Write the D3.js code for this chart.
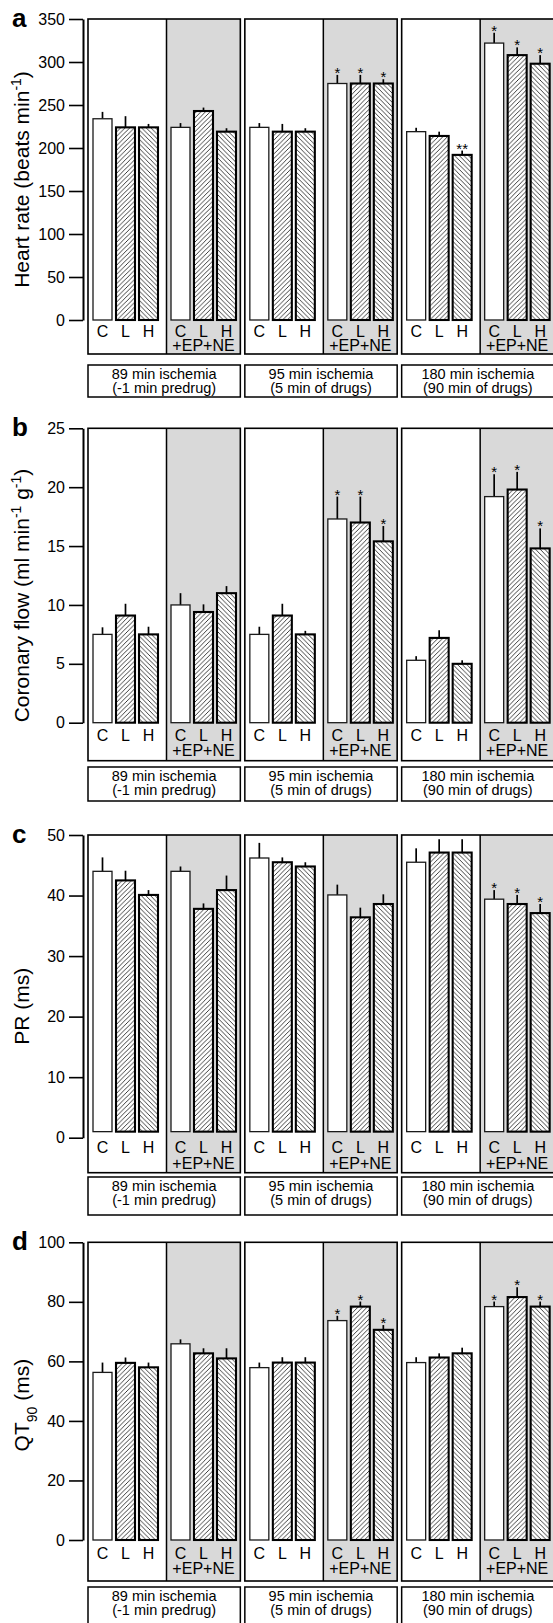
<!DOCTYPE html>
<html><head><meta charset="utf-8">
<script src="https://cdn.jsdelivr.net/npm/d3@7"></script>
<style>
body{margin:0;background:#fff}
svg text{font-family:"Liberation Sans",Arial,Helvetica,sans-serif;fill:#000}
</style>
</head><body>
<svg id="chart" width="553" height="1623"></svg>
<script>
// ---------------- DATA ----------------
const treatments = ["C", "L", "H"];
const conditions = ["control", "drug"];
const drugLabel = "+EP+NE";
const groupLine1 = ["89 min ischemia", "95 min ischemia", "180 min ischemia"];
const groupLine2 = ["(-1 min predrug)", "(5 min of drugs)", "(90 min of drugs)"];

// order: group -> condition(control, +EP+NE) -> treatment(C, L, H)
const hrMean = [234, 224, 224, 224, 243, 219,  224, 219, 219, 275, 275, 275,  219, 214, 192, 322, 308, 298];
const hrErr  = [8, 13, 4, 5, 4, 4,  5, 9, 4, 10, 10, 5,  4.5, 5, 5, 12, 9, 10];
const hrSig  = ["", "", "", "", "", "",  "", "", "", "*", "*", "*",  "", "", "**", "*", "*", "*"];
const hrTicks = [0, 50, 100, 150, 200, 250, 300, 350];

const cfMean = [7.5, 9.1, 7.5, 10.0, 9.4, 11.0,  7.5, 9.1, 7.5, 17.3, 17.0, 15.4,  5.3, 7.2, 5.0, 19.2, 19.8, 14.8];
const cfErr  = [0.6, 1.0, 0.65, 1.0, 0.65, 0.6,  0.65, 1.0, 0.3, 1.9, 2.2, 1.3,  0.35, 0.65, 0.3, 1.9, 1.5, 1.7];
const cfSig  = ["", "", "", "", "", "",  "", "", "", "*", "*", "*",  "", "", "", "*", "*", "*"];
const cfTicks = [0, 5, 10, 15, 20, 25];

const prMean = [44, 42.5, 40.1, 44, 37.8, 40.9,  46.2, 45.5, 44.8, 40.1, 36.4, 38.6,  45.5, 47.1, 47.1, 39.4, 38.6, 37.1];
const prErr  = [2.3, 1.6, 0.8, 0.8, 0.9, 2.4,  2.5, 0.8, 0.7, 1.7, 1.6, 1.6,  2.3, 2.2, 2.2, 1.5, 1.5, 1.5];
const prSig  = ["", "", "", "", "", "",  "", "", "", "", "", "",  "", "", "", "*", "*", "*"];
const prTicks = [0, 10, 20, 30, 40, 50];
const prBarBase = 1;

const qtMean = [56.3, 59.5, 58.0, 65.9, 62.7, 61.0,  57.9, 59.6, 59.6, 73.7, 78.4, 70.6,  59.6, 61.3, 62.7, 78.4, 81.6, 78.4];
const qtErr  = [3.3, 1.8, 1.6, 1.5, 1.7, 3.4,  1.7, 1.8, 1.8, 1.6, 1.7, 1.6,  1.8, 1.4, 1.9, 1.7, 3.3, 1.7];
const qtSig  = ["", "", "", "", "", "",  "", "", "", "*", "*", "*",  "", "", "", "*", "*", "*"];
const qtTicks = [0, 20, 40, 60, 80, 100];

// ---------------- LAYOUT ----------------
const panels = [
  {letter: "a", mean: hrMean, err: hrErr, sig: hrSig, ticks: hrTicks, base: 0,
   title: [["Heart rate (beats min", 0], ["-1", 1], [")", 0]], titleShift: 10,
   top: 19, zero: 320, clh: 17, epne: 31, boxB: 34, labTop: 365, labBot: 397},
  {letter: "b", mean: cfMean, err: cfErr, sig: cfSig, ticks: cfTicks, base: 0,
   title: [["Coronary flow (ml min", 0], ["-1", 1], [" g", 0], ["-1", 1], [")", 0]], titleShift: 20,
   top: 428.3, zero: 722.7, clh: 18, epne: 33, boxB: 38, labTop: 767, labBot: 801},
  {letter: "c", mean: prMean, err: prErr, sig: prSig, ticks: prTicks, base: prBarBase,
   title: [["PR (ms)", 0]], titleShift: 20,
   top: 835, zero: 1137.7, clh: 15, epne: 31, boxB: 35, labTop: 1177, labBot: 1215},
  {letter: "d", mean: qtMean, err: qtErr, sig: qtSig, ticks: qtTicks, base: 0,
   title: [["QT", 0], ["90", -1], [" (ms)", 0]], titleShift: 14,
   top: 1242.3, zero: 1540, clh: 19, epne: 34, boxB: 41, labTop: 1587, labBot: 1626}
];

const svg = d3.select("#chart");
const defs = svg.append("defs");
const hs = 4.6;
function hatch(id, d) {
  const p = defs.append("pattern").attr("id", id).attr("patternUnits", "userSpaceOnUse")
    .attr("width", hs).attr("height", hs);
  p.append("rect").attr("width", hs).attr("height", hs).attr("fill", "#fff");
  p.append("path").attr("d", d).attr("stroke", "#000").attr("stroke-width", 0.75).attr("fill", "none");
}
const q = hs / 4;
hatch("hatchUp", `M0,${hs}L${hs},0M${-q},${q}L${q},${-q}M${hs - q},${hs + q}L${hs + q},${hs - q}`);
hatch("hatchDown", `M0,0L${hs},${hs}M${-q},${hs - q}L${q},${hs + q}M${hs - q},${-q}L${hs + q},${q}`);
const fills = {C: "#fff", L: "url(#hatchUp)", H: "url(#hatchDown)"};

const axisX = 83;
const groupScale = d3.scaleBand().domain(d3.range(3)).range([88, 554]).paddingInner(4.5 / 156.8).paddingOuter(0);
const dividerOffset = 78.5;
const gray = "#d9d9d9";
const fs = 16;

panels.forEach(P => {
  const g = svg.append("g");
  const y = d3.scaleLinear().domain([0, d3.max(P.ticks)]).range([P.zero, P.top]);

  d3.range(3).forEach(gi => {
    const x0 = groupScale(gi), w = groupScale.bandwidth();
    const xd = x0 + dividerOffset;
    const h = P.zero + P.boxB - P.top;
    g.append("rect").attr("x", x0).attr("y", P.top).attr("width", w).attr("height", h).attr("fill", "#fff");
    g.append("rect").attr("x", xd).attr("y", P.top).attr("width", x0 + w - xd).attr("height", h).attr("fill", gray);
    g.append("line").attr("x1", xd).attr("x2", xd).attr("y1", P.top).attr("y2", P.zero + P.boxB)
      .attr("stroke", "#000").attr("stroke-width", 1.5);
    g.append("rect").attr("x", x0).attr("y", P.top).attr("width", w).attr("height", h)
      .attr("fill", "none").attr("stroke", "#000").attr("stroke-width", 1.6);

    // label box
    g.append("rect").attr("x", x0).attr("y", P.labTop).attr("width", w).attr("height", P.labBot - P.labTop)
      .attr("fill", "#fff").attr("stroke", "#000").attr("stroke-width", 1.5);
    const lc = x0 + w / 2;
    g.append("text").attr("x", lc).attr("y", P.labTop + 13.5).attr("text-anchor", "middle")
      .attr("font-size", 14.5).text(groupLine1[gi]);
    g.append("text").attr("x", lc).attr("y", P.labTop + 28).attr("text-anchor", "middle")
      .attr("font-size", 14.5).text(groupLine2[gi]);

    conditions.forEach((cond, ci) => {
      const sx = ci === 0 ? x0 + 5 : xd + 4.5;
      const xb = d3.scaleBand().domain(treatments).range([sx, sx + 65]).paddingInner(4 / 23).paddingOuter(0);
      treatments.forEach(t => {
        const idx = gi * 6 + ci * 3 + treatments.indexOf(t);
        const m = P.mean[idx], e = P.err[idx], s = P.sig[idx];
        const bx = xb(t), bw = xb.bandwidth(), cx = bx + bw / 2;
        g.append("line").attr("x1", cx).attr("x2", cx).attr("y1", y(m)).attr("y2", y(m + e))
          .attr("stroke", "#000").attr("stroke-width", 1.7);
        g.append("rect").attr("x", bx).attr("y", y(m)).attr("width", bw).attr("height", y(P.base) - y(m))
          .attr("fill", fills[t]).attr("stroke", t === "C" ? "#1a1a1a" : "#000")
          .attr("stroke-width", t === "C" ? 1.3 : 2.1);
        if (s) {
          g.append("text").attr("x", cx).attr("y", y(m + e) + 3).attr("text-anchor", "middle")
            .attr("font-size", 15).text(s);
        }
        g.append("text").attr("x", cx).attr("y", P.zero + P.clh).attr("text-anchor", "middle")
          .attr("font-size", fs).text(t);
      });
      if (ci === 1) {
        g.append("text").attr("x", sx + 32.5).attr("y", P.zero + P.epne).attr("text-anchor", "middle")
          .attr("font-size", fs).text(drugLabel);
      }
    });
  });

  // y axis
  const ax = g.append("g").attr("transform", `translate(${axisX},0)`)
    .call(d3.axisLeft(y).tickValues(P.ticks).tickSize(14).tickSizeOuter(0).tickPadding(4).tickFormat(d3.format("d")));
  ax.select(".domain").attr("stroke", "#000").attr("stroke-width", 2);
  ax.selectAll(".tick line").attr("stroke", "#000").attr("stroke-width", 1.6);
  ax.selectAll(".tick text").attr("font-size", fs).attr("font-family", "Liberation Sans, Arial, sans-serif").attr("fill", "#000");

  // y title
  const t = g.append("text").attr("transform", `translate(29,${(P.top + P.zero) / 2 + P.titleShift}) rotate(-90)`)
    .attr("text-anchor", "middle").attr("font-size", 21);
  P.title.forEach(([s, k]) => {
    const ts = t.append("tspan").text(s);
    if (k === 1) ts.attr("font-size", 14).attr("baseline-shift", "super");
    if (k === -1) ts.attr("font-size", 14).attr("baseline-shift", "sub");
  });

  // panel letter
  g.append("text").attr("x", 12).attr("y", P.top + 8).attr("font-size", 26).attr("font-weight", "bold").text(P.letter);
});
</script>
</body></html>
